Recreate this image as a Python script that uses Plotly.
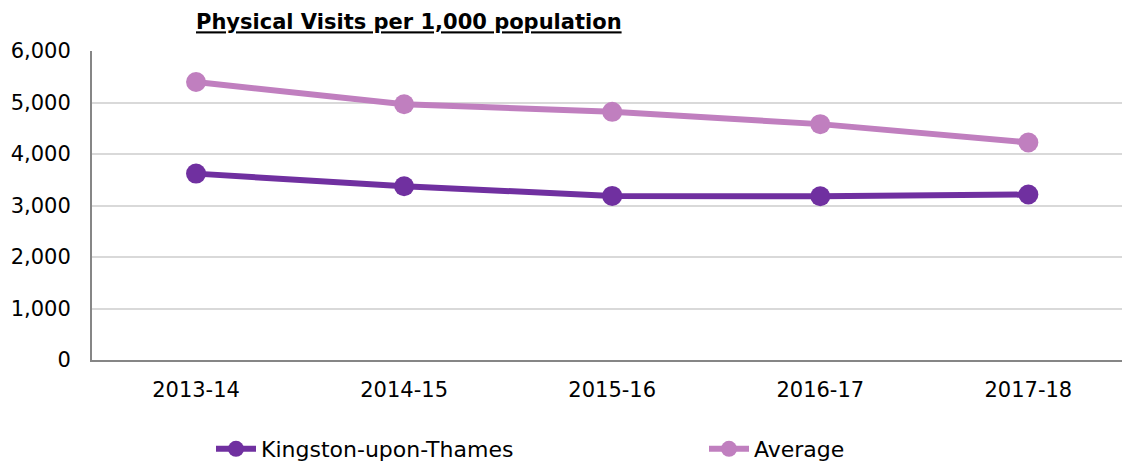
import plotly.graph_objects as go

years = ["2013-14", "2014-15", "2015-16", "2016-17", "2017-18"]
kingston = [3619, 3373, 3186, 3180, 3213]
average = [5398, 4967, 4818, 4580, 4224]
y_ticks = [0, 1000, 2000, 3000, 4000, 5000, 6000]
y_tick_labels = ["0", "1,000", "2,000", "3,000", "4,000", "5,000", "6,000"]

FONT = "Verdana, DejaVu Sans, sans-serif"
W, H = 1122, 461

fig = go.Figure()
fig.add_trace(go.Scatter(
    x=years, y=kingston, name="Kingston-upon-Thames", mode="lines+markers",
    line=dict(color="#7030a0", width=6), marker=dict(color="#7030a0", size=20),
))
fig.add_trace(go.Scatter(
    x=years, y=average, name="Average", mode="lines+markers",
    line=dict(color="#c07fbf", width=6), marker=dict(color="#c07fbf", size=20),
))

fig.update_layout(
    width=W, height=H,
    margin=dict(l=92, r=0, t=51, b=101, autoexpand=False),
    paper_bgcolor="white", plot_bgcolor="white",
    font=dict(family=FONT, size=21, color="#000000"),
    title=dict(text="<b><u>Physical Visits per 1,000 population</u></b>",
               x=196 / W, xanchor="left", xref="container",
               y=1 - 22 / H, yanchor="middle", yref="container",
               font=dict(family=FONT, size=21, color="#000000")),
    showlegend=True,
    legend=dict(orientation="h", x=211 / W, xanchor="left", xref="container",
                y=1 - 449 / H, yanchor="middle", yref="container",
                font=dict(family=FONT, size=22, color="#000000"),
                entrywidth=438, entrywidthmode="pixels",
                itemwidth=40, bgcolor="rgba(0,0,0,0)"),
    hovermode=False,
)
fig.update_xaxes(
    type="category", range=[-0.5, 4.45], automargin=False,
    showline=True, linecolor="#868686", linewidth=2,
    showgrid=False, ticks="", ticklabelstandoff=10,
    tickfont=dict(family=FONT, size=21, color="#000000"),
)
fig.update_yaxes(
    range=[0, 6000], tickvals=y_ticks, ticktext=y_tick_labels, automargin=False,
    showline=True, linecolor="#868686", linewidth=2,
    showgrid=True, gridcolor="#d9d9d9", gridwidth=1.5,
    zeroline=False, ticks="", ticklabelstandoff=15,
    tickfont=dict(family=FONT, size=21, color="#000000"),
)

fig.write_html("out.html", config={"displayModeBar": False},
               post_script="document.body.style.margin='0';document.body.style.overflow='hidden';")
